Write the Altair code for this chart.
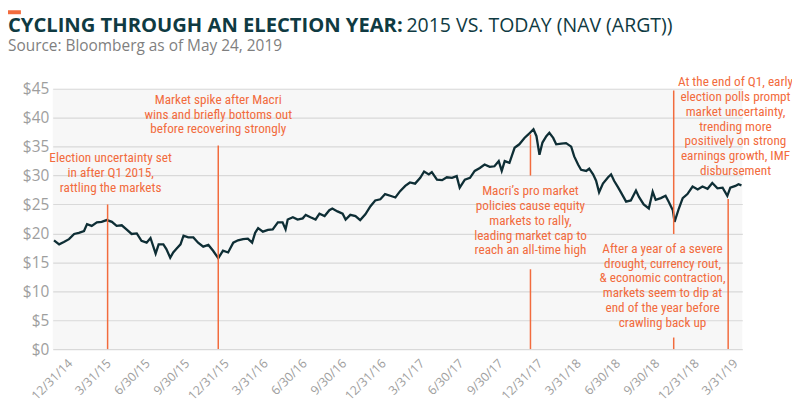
import altair as alt
import pandas as pd

# ---- NAV series ----
dates = [
    "2014-12-10", "2014-12-22", "2015-01-02", "2015-01-14", "2015-01-26", "2015-02-06", "2015-02-18",
    "2015-02-25", "2015-03-08", "2015-03-20", "2015-03-31", "2015-04-12", "2015-04-24", "2015-05-05",
    "2015-05-17", "2015-05-28", "2015-06-09", "2015-06-21", "2015-07-02", "2015-07-14", "2015-07-23",
    "2015-08-04", "2015-08-11", "2015-08-22", "2015-08-29", "2015-09-07", "2015-09-14", "2015-09-21",
    "2015-10-01", "2015-10-08", "2015-10-19", "2015-10-31", "2015-11-11", "2015-11-23", "2015-12-05",
    "2015-12-16", "2015-12-28", "2016-01-08", "2016-01-20", "2016-02-01", "2016-02-12", "2016-02-24",
    "2016-03-06", "2016-03-16", "2016-03-23", "2016-03-30", "2016-04-10", "2016-04-22", "2016-05-03",
    "2016-05-15", "2016-05-26", "2016-06-02", "2016-06-07", "2016-06-19", "2016-06-30", "2016-07-12",
    "2016-07-19", "2016-07-30", "2016-08-11", "2016-08-20", "2016-09-01", "2016-09-12", "2016-09-19",
    "2016-10-01", "2016-10-13", "2016-10-20", "2016-10-31", "2016-11-12", "2016-11-23", "2016-12-05",
    "2016-12-17", "2016-12-28", "2017-01-09", "2017-01-20", "2017-02-01", "2017-02-13", "2017-02-24",
    "2017-03-08", "2017-03-19", "2017-03-31", "2017-04-12", "2017-04-21", "2017-05-02", "2017-05-09",
    "2017-05-21", "2017-06-02", "2017-06-13", "2017-06-25", "2017-07-06", "2017-07-13", "2017-07-25",
    "2017-08-06", "2017-08-17", "2017-08-29", "2017-09-09", "2017-09-21", "2017-10-02", "2017-10-12",
    "2017-10-19", "2017-10-26", "2017-11-06", "2017-11-18", "2017-11-29", "2017-12-11", "2017-12-20",
    "2018-01-01", "2018-01-08", "2018-01-15", "2018-01-22", "2018-01-31", "2018-02-07", "2018-02-16",
    "2018-02-23", "2018-03-07", "2018-03-18", "2018-03-30", "2018-04-06", "2018-04-15", "2018-04-22",
    "2018-05-04", "2018-05-11", "2018-05-20", "2018-05-27", "2018-06-03", "2018-06-12", "2018-06-24",
    "2018-07-01", "2018-07-08", "2018-07-17", "2018-07-24", "2018-08-05", "2018-08-16", "2018-08-28",
    "2018-09-04", "2018-09-15", "2018-09-27", "2018-10-06", "2018-10-13", "2018-10-25", "2018-11-05",
    "2018-11-12", "2018-11-22", "2018-11-26", "2018-12-06", "2018-12-15", "2018-12-26", "2019-01-07",
    "2019-01-19", "2019-01-30", "2019-02-11", "2019-02-22", "2019-03-06", "2019-03-18", "2019-03-29",
    "2019-04-05", "2019-04-17", "2019-04-24", "2019-05-01",
]
nav = [
    18.8, 18.1, 18.5, 19.0, 19.9, 20.1, 20.4,
    21.6, 21.3, 21.9, 22.0, 22.3, 22.0, 21.3,
    21.4, 20.7, 19.9, 20.0, 18.7, 18.4, 19.2,
    16.5, 18.1, 18.1, 17.3, 15.8, 16.7, 17.3,
    18.1, 19.6, 19.3, 19.3, 18.4, 17.7, 18.0,
    17.0, 15.7, 17.0, 16.7, 18.4, 18.8, 19.0,
    19.1, 18.4, 20.1, 20.9, 20.3, 20.6, 20.7,
    21.9, 21.9, 20.7, 22.4, 22.8, 22.4, 22.6,
    23.2, 22.8, 22.4, 23.4, 23.0, 24.0, 24.3,
    23.8, 23.4, 22.4, 23.2, 23.0, 22.3, 23.3,
    24.7, 25.7, 25.9, 26.8, 26.5, 26.2, 27.3,
    28.2, 28.8, 28.6, 29.6, 30.7, 30.2, 30.6,
    29.3, 29.2, 29.7, 29.6, 29.9, 27.9, 29.3,
    29.6, 30.8, 31.3, 31.9, 31.5, 31.6, 32.5,
    30.8, 32.5, 32.2, 34.8, 35.4, 36.5, 37.1,
    38.0, 36.8, 33.6, 35.7, 36.8, 37.4, 36.5,
    35.4, 35.5, 35.6, 35.0, 33.3, 31.9, 31.0,
    30.8, 31.2, 30.2, 29.1, 27.1, 28.6, 29.7,
    30.2, 29.1, 28.0, 27.1, 25.5, 25.7, 27.4,
    26.3, 25.0, 24.3, 27.2, 25.8, 26.1, 26.5,
    25.5, 24.0, 22.0, 24.3, 26.1, 26.8, 28.1,
    27.6, 28.1, 27.7, 28.7, 27.8, 27.9, 26.5,
    27.9, 28.2, 28.5, 28.3,
]

# ---- axis ticks ----
tick_dates = [
    (2014, 12, 31), (2015, 3, 31), (2015, 6, 30), (2015, 9, 30), (2015, 12, 31),
    (2016, 3, 31), (2016, 6, 30), (2016, 9, 30), (2016, 12, 31),
    (2017, 3, 31), (2017, 6, 30), (2017, 9, 30), (2017, 12, 31),
    (2018, 3, 31), (2018, 6, 30), (2018, 9, 30), (2018, 12, 31),
    (2019, 3, 31),
]
y_ticks = [0, 5, 10, 15, 20, 25, 30, 35, 40, 45]
x_start = (2014, 12, 7)
x_end = (2019, 5, 3)

# ---- annotations ----
ann_text = [
    "Election uncertainty set\nin after Q1 2015,\nrattling the markets",
    "Market spike after Macri\nwins and briefly bottoms out\nbefore recovering strongly",
    "Macri\u2019s pro market\npolicies cause equity\nmarkets to rally,\nleading market cap to\nreach an all-time high",
    "After a year of a severe\ndrought, currency rout,\n& economic contraction,\nmarkets seem to dip at\nend of the year before\ncrawling back up",
    "At the end of Q1, early\nelection polls prompt\nmarket uncertainty,\ntrending more\npositively on strong\nearnings growth, IMF\ndisbursement",
]
ann_date = ["2015-04-21", "2015-12-28", "2017-12-25", "2018-10-29", "2019-04-17"]
ann_value = [32.3, 42.36, 26.55, 16.6, 45.4]

rule_date = ["2015-04-14", "2015-12-28", "2017-12-25", "2017-12-25", "2018-11-24", "2018-11-24", "2019-03-31"]
rule_top = [25.0, 35.2, 37.1, 13.8, 44.7, 2.0, 25.95]
rule_bottom = [0, 0, 30.0, 0, 19.9, 0, 0]

title_bold = "CYCLING THROUGH AN ELECTION YEAR:"
title_regular = "2015 VS. TODAY (NAV (ARGT))"
subtitle = "Source: Bloomberg as of May 24, 2019"

ORANGE = "#F26B3D"
TEAL = "#0F3A42"
LINE = "#0E2E35"
GRAY = "#9E9E9E"
NARROW = "Liberation Sans Narrow, Roboto Condensed, Roboto, sans-serif"
SANS = "Open Sans, Lato, sans-serif"

df = pd.DataFrame({"date": dates, "nav": nav})
df_ann = pd.DataFrame({"date": ann_date, "value": ann_value, "text": ann_text})
df_rule = pd.DataFrame({"date": rule_date, "top": rule_top, "bottom": rule_bottom})


def dt(t):
    return alt.DateTime(year=t[0], month=t[1], date=t[2], utc=True)


xscale = alt.Scale(type="utc", domain=[dt(x_start), dt(x_end)])
yscale = alt.Scale(domain=[0, 45], nice=False)

xaxis = alt.Axis(
    values=[dt(t) for t in tick_dates],
    labelExpr="utcFormat(datum.value, '%-m/%d/%y')",
    labelAngle=-45,
    labelAlign="right",
    labelBaseline="middle",
    labelPadding=12,
    labelOffset=7,
    labelColor=GRAY,
    labelFont=SANS,
    labelFontSize=12.5,
    grid=False,
    ticks=False,
    domain=False,
    title=None,
    labelOverlap=False,
)
yaxis = alt.Axis(
    values=y_ticks,
    labelExpr="'$' + datum.value",
    labelColor=GRAY,
    labelFont=SANS,
    labelFontSize=15.5,
    labelPadding=4,
    labelOverlap=False,
    grid=True,
    gridColor="#D9D9D9",
    gridWidth=1.2,
    ticks=False,
    domain=False,
    title=None,
)

line = alt.Chart(df).mark_line(color=LINE, strokeWidth=2.3).encode(
    x=alt.X("date:T", scale=xscale, axis=xaxis),
    y=alt.Y("nav:Q", scale=yscale, axis=yaxis),
)

rules = alt.Chart(df_rule).mark_rule(color=ORANGE, strokeWidth=1.5).encode(
    x=alt.X("date:T", scale=xscale, axis=xaxis),
    y=alt.Y("top:Q", scale=yscale, axis=yaxis),
    y2="bottom:Q",
)

ann = alt.Chart(df_ann).mark_text(
    color=ORANGE, font=NARROW, fontSize=13.3, lineBreak="\n", lineHeight=14.8,
    align="center", baseline="alphabetic",
).encode(
    x=alt.X("date:T", scale=xscale, axis=xaxis),
    y=alt.Y("value:Q", scale=yscale, axis=yaxis),
    text="text:N",
)

one = pd.DataFrame({"k": [0]})
bar = alt.Chart(one).mark_rect(color=ORANGE).encode(
    x=alt.value(-45), x2=alt.value(-32), y=alt.value(-79), y2=alt.value(-75)
)
t1 = alt.Chart(pd.DataFrame({"t": [title_bold]})).mark_text(
    font=SANS, fontSize=20.3, fontWeight="bold", color=TEAL, align="left", baseline="alphabetic"
).encode(text="t:N", x=alt.value(-45), y=alt.value(-57))
t2 = alt.Chart(pd.DataFrame({"t": [title_regular]})).mark_text(
    font=SANS, fontSize=19.6, color=TEAL, align="left", baseline="alphabetic"
).encode(text="t:N", x=alt.value(356), y=alt.value(-57))
t3 = alt.Chart(pd.DataFrame({"t": [subtitle]})).mark_text(
    font=SANS, fontSize=15.5, color="#7F7F7F", align="left", baseline="alphabetic"
).encode(text="t:N", x=alt.value(-45), y=alt.value(-38))

chart = alt.layer(line, rules, ann, bar, t1, t2, t3).properties(
    width=694,
    height=262,
    autosize=alt.AutoSizeParams(type="none"),
    padding={"left": 45, "top": 80, "right": 50, "bottom": 56},
).configure_view(fill="#F7F7F7", stroke=None)

chart.save("out.html", embed_options={"renderer": "svg", "actions": False})
